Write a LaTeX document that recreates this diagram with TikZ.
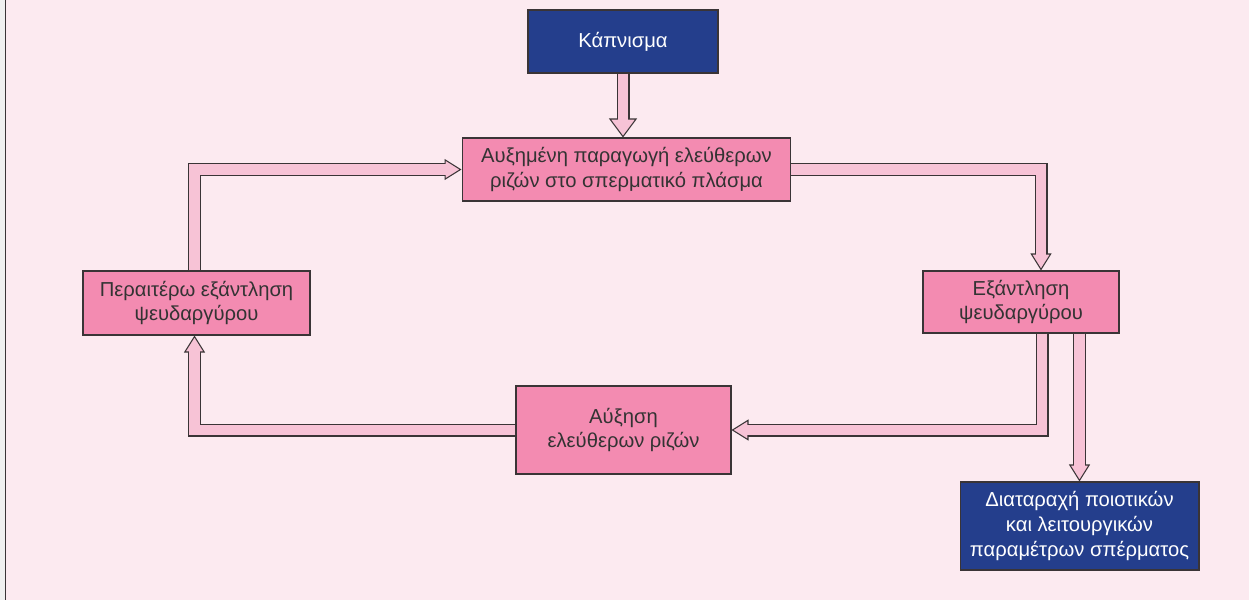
\documentclass[tikz,border=0pt]{standalone}
\usepackage{fontspec}
\setmainfont{Liberation Sans}
\usetikzlibrary{arrows.meta}
\definecolor{bgpink}{HTML}{FCEAF0}
\definecolor{boxpink}{HTML}{F38BB1}
\definecolor{bandpink}{HTML}{F7C3D6}
\definecolor{navy}{HTML}{243E8C}
\definecolor{edge}{HTML}{3A3436}
\tikzset{
  box/.style={draw=edge, line width=0.6pt, fill=boxpink, text=black!80, align=center,
    font=\fontsize{11.5}{14}\selectfont, inner sep=0pt},
  bluebox/.style={box, fill=navy, text=white},
  fatout/.style={draw=edge, line width=0.26cm,
    -{Triangle[length=0.34cm, width=0.42cm, fill=bandpink, line width=0.6pt]}},
  bighead/.style={-{Triangle[length=0.38cm, width=0.56cm, fill=bandpink, line width=0.6pt]}},
  fatin/.style={draw=bandpink, line width=0.21cm, shorten >=0.3cm},
}
\newcommand\fatarrow[2][]{\draw[fatout,#1] #2; \draw[fatin] #2;}
\begin{document}
\begin{tikzpicture}[x=0.02cm, y=-0.02cm]
    \useasboundingbox (0,0) rectangle (1249,600);
    \fill[bgpink] (0,0) rectangle (1249,600);
    \fill[black!6] (0,0) rectangle (4.5,600);
    \draw[edge, line width=0.9pt] (5.5,0) -- (5.5,600);

    \node[bluebox, minimum width=3.8cm, minimum height=1.26cm] (smoke) at (623,41.5) {Κάπνισμα};
    \node[box, minimum width=6.58cm, minimum height=1.26cm] (radicals) at (626.5,169.5) {Αυξημένη παραγωγή ελεύθερων\\ριζών στο σπερματικό πλάσμα};
    \node[box, minimum width=3.92cm, minimum height=1.24cm] (depletion) at (1021,302) {Εξάντληση\\ψευδαργύρου};
    \node[box, minimum width=4.54cm, minimum height=1.28cm] (further) at (196.5,303) {Περαιτέρω εξάντληση\\ψευδαργύρου};
    \node[box, minimum width=4.3cm, minimum height=1.76cm] (increase) at (623.5,430) {Αύξηση\\ελεύθερων ριζών};
    \node[bluebox, minimum width=4.78cm, minimum height=1.76cm] (damage) at (1079.5,526) {Διαταραχή ποιοτικών\\και λειτουργικών\\παραμέτρων σπέρματος};

    \fatarrow[bighead]{(smoke.south) -- (smoke.south |- radicals.north)}
    \fatarrow{(radicals.east) -| ([xshift=0.4cm]depletion.north)}
    \fatarrow{([xshift=0.42cm]depletion.south) |- (increase.east)}
    \fatarrow{(damage.north |- depletion.south) -- (damage.north)}
    \fatarrow{(increase.west) -| ([xshift=-0.04cm]further.south)}
    \fatarrow{([xshift=-0.04cm]further.north) |- (radicals.west)}
\end{tikzpicture}
\end{document}
